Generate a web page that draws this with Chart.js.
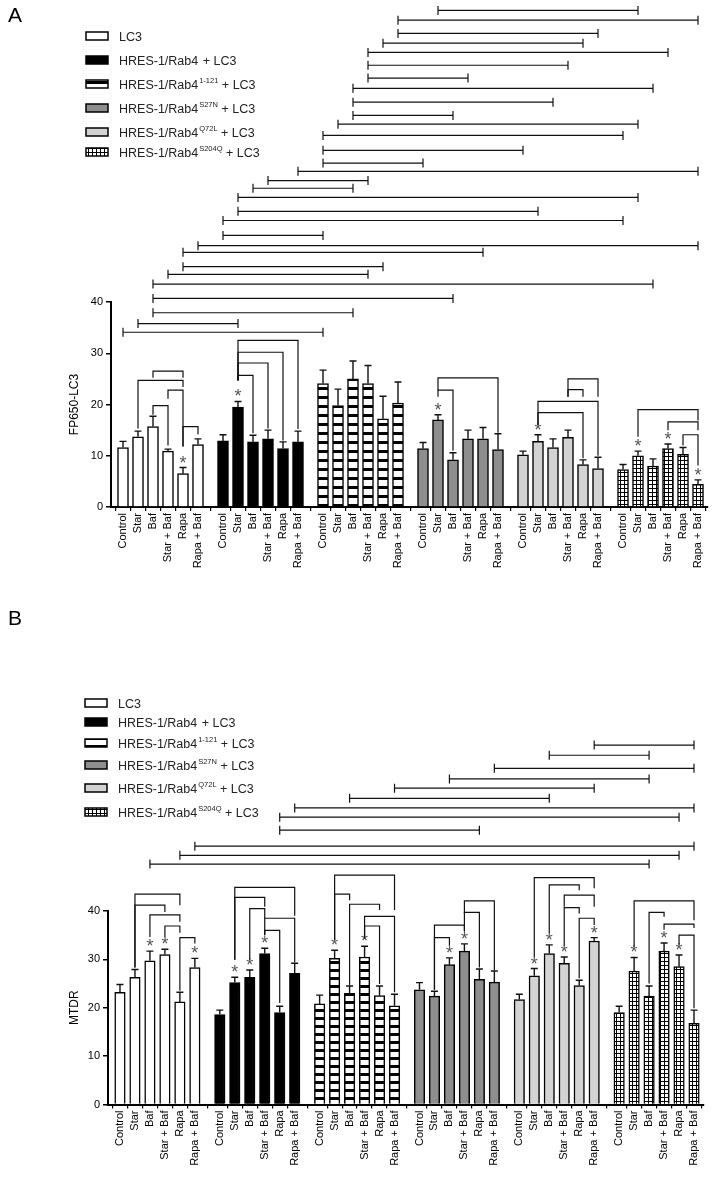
<!DOCTYPE html>
<html>
<head>
<meta charset="utf-8">
<script src="https://cdn.jsdelivr.net/npm/chart.js@4.4.0/dist/chart.umd.min.js"></script>
<style>
  html, body { margin: 0; padding: 0; background: #fff; }
  canvas { display: block; }
</style>
</head>
<body>
<canvas id="chartA" width="715" height="585"></canvas>
<canvas id="chartB" width="715" height="593"></canvas>
<script>
const FONT = '"Liberation Sans", Arial, sans-serif';

const treatments = ['Control', 'Star', 'Baf', 'Star + Baf', 'Rapa', 'Rapa + Baf'];
// legend: base text, superscript, tail
const constructs = [
  ['LC3', '', ''],
  ['HRES-1/Rab4', '', ' + LC3'],
  ['HRES-1/Rab4', '1-121', ' + LC3'],
  ['HRES-1/Rab4', 'S27N', ' + LC3'],
  ['HRES-1/Rab4', 'Q72L', ' + LC3'],
  ['HRES-1/Rab4', 'S204Q', ' + LC3']
];

// ---- Panel A: FP650-LC3 ----
const fpTicks = [0, 10, 20, 30, 40];
const fpLc3 = [11.6, 13.7, 15.7, 10.9, 6.5, 12.2];
const fpLc3Err = [1.2, 1.1, 2.0, 0.4, 1.2, 1.1];
const fpRab4 = [12.9, 19.5, 12.7, 13.3, 11.4, 12.7];
const fpRab4Err = [1.2, 1.1, 1.3, 1.7, 1.3, 2.1];
const fpR121 = [24.1, 19.8, 25.0, 24.1, 17.2, 20.3];
const fpR121Err = [2.6, 3.2, 3.5, 3.5, 4.4, 4.1];
const fpS27n = [11.4, 17.0, 9.2, 13.3, 13.3, 11.2];
const fpS27nErr = [1.2, 1.0, 1.4, 1.7, 2.2, 3.1];
const fpQ72l = [10.2, 12.8, 11.6, 13.6, 8.3, 7.5];
const fpQ72lErr = [0.7, 1.3, 1.7, 1.4, 0.9, 2.2];
const fpS204q = [7.3, 10.0, 8.0, 11.4, 10.3, 4.4];
const fpS204qErr = [1.0, 0.9, 1.4, 0.9, 1.3, 0.9];
// bar index = group * 6 + treatment
const fpStars = [4, 7, 19, 25, 31, 33, 35];
// [from, to, level, left leg end, right leg end]
const fpBrackets = [
  [2, 4, 26.5, 25.2, 25.2], [1, 4, 24.7, 15.3, 23.4], [3, 4, 22.8, 21.1, 11.8],
  [2, 3, 19.8, 18.0, 12.0], [4, 5, 15.7, 11.8, 14.2],
  [7, 11, 32.5, 24.7, 15.2], [7, 10, 30.2, 24.7, 13.0], [7, 9, 28.1, 24.7, 15.3],
  [7, 8, 25.7, 24.7, 14.4],
  [19, 23, 25.2, 22.8, 14.5], [19, 20, 22.8, 21.5, 11.0],
  [27, 29, 25.0, 21.5, 21.5], [27, 28, 22.9, 21.5, 21.5], [25, 29, 20.6, 16.0, 10.0],
  [25, 28, 18.4, 16.0, 9.5],
  [31, 35, 19.0, 13.7, 16.9], [33, 35, 16.6, 15.0, 15.0], [34, 35, 14.1, 12.0, 8.1]
];
// [from, to, level] between groups
const fpSpans = [
  [19, 31, 96.9], [17, 35, 95.0], [17, 29, 92.4], [16, 28, 90.5], [15, 33, 88.7],
  [15, 27, 86.2], [15, 21, 83.7], [14, 32, 81.7], [14, 26, 79.0], [14, 20, 76.4],
  [13, 31, 74.7], [12, 30, 72.5], [12, 24, 69.6], [12, 18, 67.1], [11, 35, 65.5],
  [9, 15, 63.7], [8, 14, 62.2], [7, 31, 60.4], [7, 25, 57.7], [6, 30, 55.9],
  [6, 12, 53.0], [5, 35, 51.0], [4, 22, 49.7], [4, 16, 46.9], [3, 15, 45.4],
  [2, 32, 43.5], [2, 20, 40.7], [2, 14, 37.9], [1, 7, 35.8], [0, 12, 34.1]
];

// ---- Panel B: MTDR ----
const mtTicks = [0, 10, 20, 30, 40];
const mtLc3 = [23.2, 26.3, 29.7, 31.0, 21.2, 28.3];
const mtLc3Err = [1.6, 1.6, 2.0, 1.1, 2.0, 1.9];
const mtRab4 = [18.6, 25.2, 26.3, 31.2, 19.0, 27.1];
const mtRab4Err = [0.9, 1.1, 1.5, 1.1, 1.3, 2.1];
const mtR121 = [20.8, 30.2, 23.0, 30.5, 22.5, 20.4];
const mtR121Err = [1.8, 1.7, 1.5, 2.2, 2.0, 2.4];
const mtS27n = [23.7, 22.4, 28.9, 31.7, 25.9, 25.3];
const mtS27nErr = [1.5, 1.0, 1.4, 1.5, 2.1, 2.3];
const mtQ72l = [21.7, 26.6, 31.2, 29.2, 24.6, 33.8];
const mtQ72lErr = [1.1, 1.5, 1.8, 1.3, 1.1, 0.7];
const mtS204q = [19.0, 27.6, 22.4, 31.7, 28.5, 16.8];
const mtS204qErr = [1.3, 2.8, 2.1, 1.7, 2.4, 2.7];
const mtStars = [2, 3, 5, 7, 8, 9, 13, 15, 20, 21, 25, 26, 27, 29, 31, 33, 34];
const mtBrackets = [
  [1, 4, 43.5, 28.3, 41.2], [1, 3, 41.2, 28.3, 39.8], [2, 4, 39.2, 34.6, 37.8],
  [3, 4, 36.9, 34.6, 35.5], [4, 5, 34.5, 23.5, 33.3],
  [7, 11, 44.9, 29.9, 39.0], [7, 9, 42.8, 29.9, 40.9], [8, 9, 40.5, 29.9, 38.5],
  [9, 11, 38.5, 35.0, 29.4], [9, 10, 36.0, 35.0, 21.0],
  [13, 17, 47.4, 34.0, 40.2], [13, 14, 43.5, 34.0, 42.2], [14, 16, 41.4, 24.7, 40.2],
  [15, 17, 38.9, 34.3, 23.2], [15, 16, 36.9, 34.3, 24.9],
  [21, 23, 42.1, 39.5, 27.8], [21, 22, 39.7, 36.0, 28.3], [19, 21, 37.1, 23.7, 35.7],
  [19, 20, 34.5, 23.7, 32.8],
  [25, 29, 46.9, 30.5, 44.7], [26, 28, 45.4, 35.4, 44.3], [27, 29, 43.3, 40.9, 40.9],
  [27, 28, 40.7, 32.8, 39.5], [28, 29, 38.5, 26.1, 37.1],
  [31, 35, 42.1, 32.6, 38.1], [32, 33, 39.7, 25.0, 38.8], [33, 35, 37.3, 36.1, 36.5],
  [34, 35, 35.0, 33.0, 19.9]
];
const mtSpans = [
  [29, 35, 74.3], [26, 32, 72.2], [23, 35, 69.5], [20, 32, 67.3], [17, 29, 65.4],
  [14, 26, 63.3], [11, 35, 61.3], [10, 34, 59.4], [10, 22, 56.7], [5, 35, 53.4],
  [4, 34, 51.5], [2, 32, 49.7]
];

// groups sit 6 2/3 bar slots apart
const GROUP_STEP = 20 / 3;
const pos = idx => Math.floor(idx / 6) * GROUP_STEP + (idx % 6);

function stripes(ctx, period) {
  const c = document.createElement('canvas');
  c.width = 4; c.height = period;
  const x = c.getContext('2d');
  x.fillStyle = '#fff'; x.fillRect(0, 0, 4, period);
  x.fillStyle = '#000'; x.fillRect(0, 0, 4, 3);
  return ctx.createPattern(c, 'repeat');
}

function gridFill(ctx) {
  const c = document.createElement('canvas');
  c.width = 4; c.height = 4;
  const x = c.getContext('2d');
  x.fillStyle = '#fff'; x.fillRect(0, 0, 4, 4);
  x.fillStyle = '#000'; x.fillRect(0, 0, 1, 4); x.fillRect(0, 0, 4, 1);
  return ctx.createPattern(c, 'repeat');
}

function overlay(p) {
  return {
    id: 'overlay',
    afterDraw(chart) {
      const ctx = chart.ctx;
      const xs = chart.scales.x, ys = chart.scales.y;
      const X = idx => xs.getPixelForValue(pos(idx));
      const Y = v => ys.getPixelForValue(v);
      ctx.save();
      ctx.strokeStyle = '#111';
      ctx.lineWidth = 1.4;

      // error bars
      chart.data.datasets.forEach((ds, g) => {
        chart.getDatasetMeta(g).data.forEach((bar, i) => {
          const top = Y(ds.data[i].y + ds.err[i]);
          ctx.beginPath();
          ctx.moveTo(bar.x, bar.y); ctx.lineTo(bar.x, top);
          ctx.moveTo(bar.x - 3.5, top); ctx.lineTo(bar.x + 3.5, top);
          ctx.stroke();
        });
      });

      // asterisks
      ctx.fillStyle = '#555';
      ctx.font = '18px ' + FONT;
      ctx.textAlign = 'center';
      ctx.textBaseline = 'alphabetic';
      p.stars.forEach(idx => {
        const g = Math.floor(idx / 6), i = idx % 6;
        ctx.fillText('*', X(idx), Y(p.means[g][i] + p.errs[g][i]) + 1);
      });

      // brackets inside groups
      ctx.lineWidth = 1.2;
      p.brackets.forEach(([a, b, lvl, la, lb]) => {
        ctx.beginPath();
        ctx.moveTo(X(a), Y(la)); ctx.lineTo(X(a), Y(lvl));
        ctx.lineTo(X(b), Y(lvl)); ctx.lineTo(X(b), Y(lb));
        ctx.stroke();
      });

      // brackets between groups
      p.spans.forEach(([a, b, lvl]) => {
        const y = Y(lvl);
        ctx.beginPath();
        ctx.moveTo(X(a), y); ctx.lineTo(X(b), y);
        ctx.moveTo(X(a), y - 4.5); ctx.lineTo(X(a), y + 4.5);
        ctx.moveTo(X(b), y - 4.5); ctx.lineTo(X(b), y + 4.5);
        ctx.stroke();
      });

      // panel letter
      ctx.fillStyle = '#000';
      ctx.textAlign = 'left';
      ctx.font = '21px ' + FONT;
      ctx.fillText(p.letter, 8, p.letterY);

      // legend
      p.legendY.forEach((cy, g) => {
        ctx.fillStyle = p.fills[g];
        ctx.fillRect(p.legendX, cy - 4, 22, 8);
        ctx.lineWidth = 1.5;
        ctx.strokeStyle = '#000';
        ctx.strokeRect(p.legendX, cy - 4, 22, 8);
        const [base, sup, tail] = constructs[g];
        let x = p.legendX + 33;
        const by = cy + 4.5;
        ctx.fillStyle = '#222';
        ctx.font = '12.5px ' + FONT;
        ctx.fillText(base, x, by);
        x += ctx.measureText(base).width + 1;
        if (sup) {
          ctx.font = '7.5px ' + FONT;
          ctx.fillText(sup, x, by - 6);
          x += ctx.measureText(sup).width;
        }
        ctx.font = '12.5px ' + FONT;
        if (tail) ctx.fillText(tail, x, by);
      });
      ctx.restore();
    }
  };
}

function buildChart(id, p) {
  const canvas = document.getElementById(id);
  const ctx = canvas.getContext('2d');
  p.fills = ['#ffffff', '#000000', stripes(ctx, p.stripe), '#8e8e8e', '#d3d3d3', gridFill(ctx)];
  const datasets = p.means.map((vals, g) => ({
    data: vals.map((v, i) => ({ x: pos(g * 6 + i), y: v })),
    err: p.errs[g],
    backgroundColor: p.fills[g],
    borderColor: '#000',
    borderWidth: 1.5,
    barThickness: p.barW,
    grouped: false
  }));
  const tickPos = [];
  for (let k = 0; k < 36; k++) tickPos.push(pos(k));

  new Chart(canvas, {
    type: 'bar',
    data: { datasets },
    options: {
      responsive: false,
      animation: false,
      layout: { padding: { top: p.top, right: p.right, left: 0, bottom: 0 } },
      plugins: { legend: { display: false }, tooltip: { enabled: false } },
      scales: {
        x: {
          type: 'linear',
          min: -0.8,
          max: 39.0,
          offset: false,
          afterBuildTicks: ax => { ax.ticks = tickPos.map(v => ({ value: v })); },
          afterFit: ax => { ax.height = p.xAxisH; },
          grid: { display: true, drawOnChartArea: false, drawTicks: true, tickLength: 4, color: '#000', lineWidth: 1.2 },
          border: { display: true, color: '#000', width: 2 },
          ticks: {
            autoSkip: false, minRotation: 90, maxRotation: 90, padding: 2,
            color: '#000', font: { family: FONT, size: 11 },
            callback: (v, i) => treatments[i % 6]
          }
        },
        y: {
          min: 0,
          max: 40,
          afterBuildTicks: ax => { ax.ticks = p.yTicks.map(v => ({ value: v })); },
          afterFit: ax => { ax.width = p.yAxisW; },
          grid: { display: true, drawOnChartArea: false, drawTicks: true, tickLength: 5, color: '#000', lineWidth: 1.5 },
          border: { display: true, color: '#000', width: 2 },
          ticks: { color: '#000', padding: 3, font: { family: FONT, size: 11 }, callback: v => String(v) },
          title: {
            display: true, text: p.yTitle, color: '#000',
            font: { family: FONT, size: 12 }, padding: { top: 67, bottom: 0 }
          }
        }
      }
    },
    plugins: [overlay(p)]
  });
}

buildChart('chartA', {
  letter: 'A', letterY: 22,
  yTitle: 'FP650-LC3', yTicks: fpTicks,
  means: [fpLc3, fpRab4, fpR121, fpS27n, fpQ72l, fpS204q],
  errs: [fpLc3Err, fpRab4Err, fpR121Err, fpS27nErr, fpQ72lErr, fpS204qErr],
  stars: fpStars, brackets: fpBrackets, spans: fpSpans,
  top: 302, right: 7, yAxisW: 111, xAxisH: 78, barW: 11, stripe: 9,
  legendX: 86, legendY: [36, 60, 84, 108, 132, 152]
});

buildChart('chartB', {
  letter: 'B', letterY: 40,
  yTitle: 'MTDR', yTicks: mtTicks,
  means: [mtLc3, mtRab4, mtR121, mtS27n, mtQ72l, mtS204q],
  errs: [mtLc3Err, mtRab4Err, mtR121Err, mtS27nErr, mtQ72lErr, mtS204qErr],
  stars: mtStars, brackets: mtBrackets, spans: mtSpans,
  top: 326, right: 11, yAxisW: 108, xAxisH: 73.5, barW: 10.5, stripe: 8,
  legendX: 85, legendY: [118, 137, 158, 180, 203, 227]
});
</script>
</body>
</html>
